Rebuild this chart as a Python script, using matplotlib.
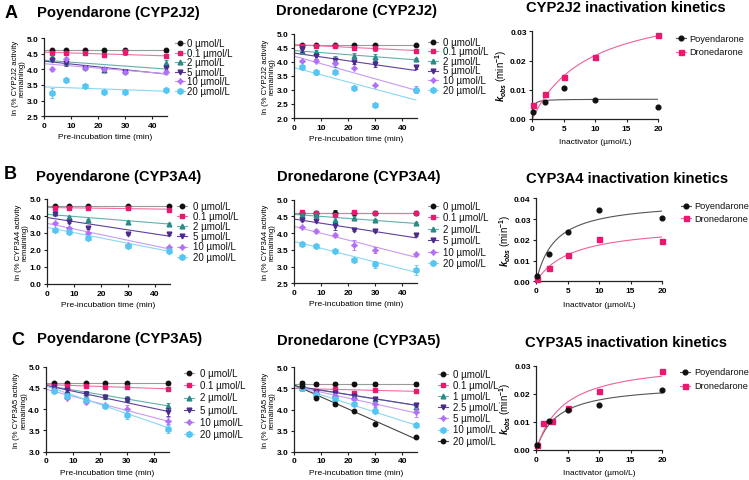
import matplotlib
matplotlib.use("Agg")
import matplotlib.pyplot as plt
from matplotlib.lines import Line2D
import numpy as np

plt.rcParams['font.family'] = ['Liberation Sans', 'DejaVu Sans']
plt.rcParams['font.weight'] = 'bold'
plt.rcParams['mathtext.fontset'] = 'custom'
plt.rcParams['mathtext.rm'] = 'Liberation Sans:bold'
plt.rcParams['mathtext.it'] = 'Liberation Sans:italic:bold'
plt.rcParams['mathtext.bf'] = 'Liberation Sans:bold'

# ---------------- data ----------------
times_full = [3, 8, 15, 22, 30, 45]
times_b_poy = [3, 8, 15, 30, 45]
labels_std = ["0 µmol/L", "0.1 µmol/L", "2 µmol/L", "5 µmol/L", "10 µmol/L", "20 µmol/L"]
labels_c_dro = ["0 µmol/L", "0.1 µmol/L", "1 µmol/L", "2.5 µmol/L", "5 µmol/L", "10 µmol/L", "20 µmol/L"]

a_poy_mean = [[4.61, 4.61, 4.61, 4.61, 4.61, 4.61],
              [4.53, 4.53, 4.52, 4.46, 4.55, 4.44],
              [4.38, 4.22, 4.07, 3.99, 3.95, 4.21],
              [4.30, 4.20, 4.05, 3.97, 3.93, 4.03],
              [4.01, 4.34, 4.05, 4.00, 3.92, 3.91],
              [3.25, 3.65, 3.47, 3.29, 3.29, 3.34]]
a_poy_err = [[0.05] * 6,
             [0.03, 0.03, 0.03, 0.03, 0.10, 0.05],
             [0.08, 0.05, 0.05, 0.04, 0.03, 0.08],
             [0.05, 0.08, 0.05, 0.04, 0.04, 0.04],
             [0.07, 0.05, 0.05, 0.04, 0.04, 0.05],
             [0.15, 0.03, 0.03, 0.06, 0.03, 0.06]]
a_poy_fit0 = [4.61, 4.55, 4.29, 4.26, 4.18, 3.44]
a_poy_fit45 = [4.61, 4.43, 4.01, 3.85, 3.86, 3.30]

a_dro_mean = [[4.61] * 6,
              [4.58, 4.57, 4.56, 4.49, 4.48, 4.38],
              [4.40, 4.36, 4.02, 4.22, 4.18, 4.09],
              [4.45, 4.19, 4.05, 3.98, 3.92, 3.80],
              [4.04, 4.04, 3.95, 3.78, 3.16, 3.01],
              [3.83, 3.62, 3.65, 3.05, 2.45, 3.00]]
a_dro_err = [[0.03] * 6,
             [0.02, 0.03, 0.03, 0.06, 0.08, 0.04],
             [0.05, 0.06, 0.20, 0.10, 0.10, 0.05],
             [0.10, 0.10, 0.10, 0.05, 0.10, 0.05],
             [0.03, 0.05, 0.05, 0.03, 0.03, 0.12],
             [0.05, 0.08, 0.05, 0.03, 0.03, 0.05]]
a_dro_fit0 = [4.61, 4.61, 4.40, 4.31, 4.20, 3.79]
a_dro_fit45 = [4.61, 4.40, 4.07, 3.69, 2.99, 2.64]

b_poy_mean = [[4.61, 4.61, 4.61, 4.61, 4.61],
              [4.45, 4.45, 4.47, 4.45, 4.36],
              [4.20, 3.96, 3.75, 3.62, 3.55],
              [4.10, 3.65, 3.30, 2.92, 2.96],
              [3.57, 3.31, 3.00, 2.30, 2.16],
              [3.20, 3.08, 2.72, 2.25, 1.96]]
b_poy_err = [[0.05] * 5,
             [0.05] * 5,
             [0.08, 0.05, 0.05, 0.10, 0.05],
             [0.05, 0.05, 0.05, 0.05, 0.05],
             [0.05, 0.05, 0.08, 0.05, 0.08],
             [0.05, 0.05, 0.08, 0.08, 0.05]]
b_poy_fit0 = [4.61, 4.50, 4.10, 3.91, 3.57, 3.33]
b_poy_fit45 = [4.61, 4.40, 3.53, 2.82, 2.07, 1.93]

b_dro_mean = [[4.61] * 6,
              [4.62, 4.60, 4.53, 4.63, 4.61, 4.60],
              [4.55, 4.53, 4.39, 4.46, 4.38, 4.30],
              [4.40, 4.37, 4.20, 4.10, 4.05, 3.95],
              [4.17, 4.07, 3.95, 3.65, 3.50, 3.37],
              [3.67, 3.62, 3.48, 3.19, 3.07, 2.91]]
b_dro_err = [[0.03, 0.03, 0.08, 0.03, 0.03, 0.02],
             [0.03] * 6,
             [0.03, 0.03, 0.08, 0.05, 0.05, 0.03],
             [0.03, 0.05, 0.10, 0.03, 0.03, 0.03],
             [0.03, 0.06, 0.06, 0.15, 0.10, 0.05],
             [0.03, 0.03, 0.05, 0.03, 0.10, 0.15]]
b_dro_fit0 = [4.61, 4.60, 4.56, 4.42, 4.20, 3.75]
b_dro_fit45 = [4.61, 4.60, 4.29, 3.86, 3.28, 2.83]

c_poy_mean = [[4.61] * 6,
              [4.55, 4.55, 4.54, 4.52, 4.52, 4.48],
              [4.50, 4.44, 4.38, 4.30, 4.25, 4.07],
              [4.52, 4.45, 4.36, 4.28, 4.22, 3.93],
              [4.46, 4.26, 4.18, 4.10, 4.00, 3.73],
              [4.44, 4.30, 4.22, 4.08, 3.87, 3.53]]
c_poy_err = [[0.03] * 6,
             [0.03] * 6,
             [0.03, 0.05, 0.05, 0.03, 0.05, 0.08],
             [0.03, 0.05, 0.08, 0.03, 0.06, 0.10],
             [0.03, 0.03, 0.05, 0.03, 0.10, 0.08],
             [0.03, 0.03, 0.05, 0.03, 0.10, 0.10]]
c_poy_fit0 = [4.61, 4.58, 4.56, 4.56, 4.47, 4.55]
c_poy_fit45 = [4.61, 4.48, 4.08, 3.95, 3.72, 3.57]

c_dro_mean = [[4.62, 4.61, 4.61, 4.61, 4.61, 4.61],
              [4.50, 4.44, 4.48, 4.38, 4.46, 4.43],
              [4.50, 4.42, 4.35, 4.32, 4.25, 4.05],
              [4.52, 4.42, 4.38, 4.31, 4.26, 4.11],
              [4.50, 4.40, 4.33, 4.25, 4.12, 3.93],
              [4.50, 4.35, 4.25, 4.14, 3.97, 3.63],
              [4.55, 4.28, 4.12, 3.96, 3.66, 3.35]]
c_dro_err = [[0.05, 0.05, 0.03, 0.03, 0.05, 0.05],
             [0.03] * 6,
             [0.03] * 6,
             [0.03] * 6,
             [0.03, 0.03, 0.03, 0.03, 0.05, 0.10],
             [0.03, 0.03, 0.03, 0.03, 0.06, 0.03],
             [0.03] * 6]
c_dro_fit0 = [4.61, 4.50, 4.55, 4.56, 4.55, 4.55, 4.58]
c_dro_fit45 = [4.61, 4.43, 4.10, 4.10, 3.92, 3.63, 3.30]

# kinetics (inactivator µmol/L vs kobs)
kin_a_poy_x = [0.1, 2, 5, 10, 20]
kin_a_poy_y = [0.0025, 0.0057, 0.0106, 0.0064, 0.0040]
kin_a_dro_x = [0.1, 2, 5, 10, 20]
kin_a_dro_y = [0.0049, 0.0084, 0.0145, 0.0213, 0.0288]
kin_b_poy_x = [0.1, 2, 5, 10, 20]
kin_b_poy_y = [0.0027, 0.0130, 0.0239, 0.0345, 0.0307]
kin_b_dro_x = [0.1, 2, 5, 10, 20]
kin_b_dro_y = [0.0011, 0.0064, 0.0125, 0.0204, 0.0196]
kin_c_poy_x = [0.1, 2, 5, 10, 20]
kin_c_poy_y = [0.0019, 0.0102, 0.0144, 0.0162, 0.0214]
kin_c_dro_x = [0.1, 1, 2.5, 5, 10, 20]
kin_c_dro_y = [0.0019, 0.0098, 0.0104, 0.0149, 0.0210, 0.0283]
# fitted (kinact, KI)
fit_a_poy = (0.0068, 0.15)
fit_a_dro = (0.0413, 9.0)
fit_b_poy = (0.0389, 3.0)
fit_b_dro = (0.0275, 5.74)
fit_c_poy = (0.0237, 3.25)
fit_c_dro = (0.0321, 4.35)

# ---------------- styles ----------------
BLACK, PINK, TEAL, DPUR, VIOL, LBLUE = '#111111', '#e8196e', '#2a8a88', '#4b2a8c', '#b36ff5', '#55c6f2'
std_colors = [BLACK, PINK, TEAL, DPUR, VIOL, LBLUE]
std_lines = ['#9a9a9a', '#f070a0', '#62b0ac', '#5e3fa0', '#c79af5', '#8ad6f5']
STAR4 = (4, 1, 0)
std_markers = ['o', 's', '^', 'v', STAR4, 'h']
std_ms = [3.2, 3.0, 3.4, 3.4, 4.2, 4.2]
c_dro_colors = [BLACK, PINK, TEAL, DPUR, VIOL, LBLUE, BLACK]
c_dro_lines = ['#9a9a9a', '#f070a0', '#62b0ac', '#5e3fa0', '#c79af5', '#8ad6f5', '#444444']
c_dro_markers = ['o', 's', '^', 'v', STAR4, 'h', 'o']
c_dro_ms = [3.2, 3.0, 3.4, 3.4, 4.2, 4.2, 3.2]

W, H = 749, 481
fig = plt.figure(figsize=(W / 100, H / 100), dpi=100)


def add_ax(left, top, right, bottom):
    return fig.add_axes([left / W, 1 - bottom / H, (right - left) / W, (bottom - top) / H])


def style_ax(ax):
    for s in ['top', 'right']:
        ax.spines[s].set_visible(False)
    for s in ['left', 'bottom']:
        ax.spines[s].set_linewidth(0.9)
        ax.spines[s].set_color('#222222')
    ax.tick_params(direction='out', length=2.5, width=0.8, labelsize=6, pad=1.5, colors='#222222')
    ax.tick_params(labelcolor='black')


def draw_legend(xm, xt, y0, dy, labels, colors, lcolors, markers, ms, fs=7):
    for i, lab in enumerate(labels):
        y = 1 - (y0 + i * dy) / H
        fig.add_artist(Line2D([(xm - 5) / W, (xm + 5) / W], [y, y], transform=fig.transFigure,
                              color=lcolors[i], lw=0.8))
        fig.add_artist(Line2D([xm / W], [y], transform=fig.transFigure, marker=markers[i],
                              ms=ms[i], color=colors[i], lw=0))
        fig.text(xt / W, y, lab, fontsize=fs, fontweight='normal', va='center', ha='left', color='#111111')


def time_panel(box, times, means, errs, f0, f45, colors, lcolors, markers, ms, ylim, yticks, ylab):
    ax = add_ax(*box)
    style_ax(ax)
    for i in range(len(means)):
        ax.plot([0, 45], [f0[i], f45[i]], color=lcolors[i], lw=0.8, zorder=2)
    for i in range(len(means)):
        ax.errorbar(times, means[i], yerr=errs[i], fmt='none', ecolor=colors[i], elinewidth=0.6,
                    capsize=1.3, capthick=0.6, clip_on=False, zorder=3)
        ax.plot(times, means[i], lw=0, marker=markers[i], ms=ms[i], color=colors[i],
                clip_on=False, zorder=3)
    ax.set_xlim(0, 45.5)
    ax.set_ylim(*ylim)
    ax.set_xticks([0, 10, 20, 30, 40])
    ax.set_yticks(yticks)
    ax.set_yticklabels([f"{v:.1f}" for v in yticks])
    ax.set_xlabel("Pre-incubation time (min)", fontsize=6, labelpad=3.2)
    ax.set_ylabel(ylab, fontsize=5.6, labelpad=0.8, linespacing=0.95)
    return ax


def kin_panel(box, px, py, dx, dy, fp, fd, ylim, yticks):
    ax = add_ax(*box)
    style_ax(ax)
    xx = np.linspace(0, 20, 300)
    ax.plot(xx, fp[0] * xx / (fp[1] + xx), color='#555555', lw=0.8, zorder=2)
    ax.plot(xx, fd[0] * xx / (fd[1] + xx), color='#f0609a', lw=0.8, zorder=2)
    ax.plot(dx, dy, 's', ms=3.6, color=PINK, clip_on=False, zorder=3)
    ax.plot(px, py, 'o', ms=3.4, color=BLACK, clip_on=False, zorder=4)
    ax.set_xlim(0, 20)
    ax.set_ylim(*ylim)
    ax.set_xticks([0, 5, 10, 15, 20])
    ax.set_yticks(yticks)
    ax.set_yticklabels([f"{v:.2f}" for v in yticks])
    ax.set_xlabel("Inactivator (µmol/L)", fontsize=6, labelpad=5)
    ax.set_ylabel(r"$k_{obs}$ (min$^{-1}$)", fontsize=7, labelpad=1)
    return ax


# ---- Row A ----
time_panel((44, 39, 167.2, 117.3), times_full, a_poy_mean, a_poy_err, a_poy_fit0, a_poy_fit45,
           std_colors, std_lines, std_markers, std_ms, (2.5, 5.0), [2.5, 3.0, 3.5, 4.0, 4.5, 5.0],
           "ln (% CYP2J2 activity\nremaining)")
time_panel((294.3, 34.7, 417.2, 119), times_full, a_dro_mean, a_dro_err, a_dro_fit0, a_dro_fit45,
           std_colors, std_lines, std_markers, std_ms, (2.0, 5.0), [2.0, 2.5, 3.0, 3.5, 4.0, 4.5, 5.0],
           "ln (% CYP2J2 activity\nremaining)")
kin_panel((532.3, 32.3, 658, 120), kin_a_poy_x, kin_a_poy_y, kin_a_dro_x, kin_a_dro_y,
          fit_a_poy, fit_a_dro, (0, 0.03), [0.0, 0.01, 0.02, 0.03])

# ---- Row B ----
time_panel((47, 200, 169.9, 285), times_b_poy, b_poy_mean, b_poy_err, b_poy_fit0, b_poy_fit45,
           std_colors, std_lines, std_markers, std_ms, (0.0, 5.0), [0.0, 1.0, 2.0, 3.0, 4.0, 5.0],
           "ln (% CYP3A4 activity\nremaining)")
time_panel((294.3, 200.7, 417.2, 284.3), times_full, b_dro_mean, b_dro_err, b_dro_fit0, b_dro_fit45,
           std_colors, std_lines, std_markers, std_ms, (2.5, 5.0), [2.5, 3.0, 3.5, 4.0, 4.5, 5.0],
           "ln (% CYP3A4 activity\nremaining)")
kin_panel((536.3, 199.3, 662, 282.3), kin_b_poy_x, kin_b_poy_y, kin_b_dro_x, kin_b_dro_y,
          fit_b_poy, fit_b_dro, (0, 0.04), [0.0, 0.01, 0.02, 0.03, 0.04])

# ---- Row C ----
time_panel((45.7, 367.7, 168.9, 452.7), times_full, c_poy_mean, c_poy_err, c_poy_fit0, c_poy_fit45,
           std_colors, std_lines, std_markers, std_ms, (3.0, 5.0), [3.0, 3.5, 4.0, 4.5, 5.0],
           "ln (% CYP3A5 activity\nremaining)")
time_panel((294.3, 368.3, 417.2, 452.7), times_full, c_dro_mean, c_dro_err, c_dro_fit0, c_dro_fit45,
           c_dro_colors, c_dro_lines, c_dro_markers, c_dro_ms, (3.0, 5.0), [3.0, 3.5, 4.0, 4.5, 5.0],
           "ln (% CYP3A5 activity\nremaining)")
kin_panel((536.3, 367, 662, 451), kin_c_poy_x, kin_c_poy_y, kin_c_dro_x, kin_c_dro_y,
          fit_c_poy, fit_c_dro, (0, 0.03), [0.0, 0.01, 0.02, 0.03])

# ---- legends ----
kin_labels = ["Poyendarone", "Dronedarone"]
draw_legend(180, 187, 44, 9.6, labels_std, std_colors, std_lines, std_markers, std_ms)
draw_legend(433, 443, 42.7, 9.6, labels_std, std_colors, std_lines, std_markers, std_ms)
draw_legend(681, 689, 39.3, 13.4, kin_labels, [BLACK, PINK], ['#555555', '#f0609a'], ['o', 's'], [3.4, 3.6], fs=6.7)
draw_legend(182, 193, 206.7, 10.2, labels_std, std_colors, std_lines, std_markers, std_ms)
draw_legend(433, 443, 207, 11.4, labels_std, std_colors, std_lines, std_markers, std_ms)
draw_legend(686, 694, 206.7, 12.7, kin_labels, [BLACK, PINK], ['#555555', '#f0609a'], ['o', 's'], [3.4, 3.6], fs=6.7)
draw_legend(189, 200, 374.3, 12.1, labels_std, std_colors, std_lines, std_markers, std_ms)
draw_legend(443, 453, 375, 11.1, labels_c_dro, c_dro_colors, c_dro_lines, c_dro_markers, c_dro_ms)
draw_legend(685, 694, 373, 13.7, kin_labels, [BLACK, PINK], ['#555555', '#f0609a'], ['o', 's'], [3.4, 3.6], fs=6.7)

# ---- titles ----
titles = [("Poyendarone (CYP2J2)", 118, 12.7), ("Dronedarone (CYP2J2)", 357, 11),
          ("CYP2J2 inactivation kinetics", 626, 8),
          ("Poyendarone (CYP3A4)", 119, 176.7), ("Dronedarone (CYP3A4)", 359, 177),
          ("CYP3A4 inactivation kinetics", 627, 179),
          ("Poyendarone (CYP3A5)", 120, 339), ("Dronedarone (CYP3A5)", 359, 341),
          ("CYP3A5 inactivation kinetics", 626, 343)]
for t, x, y in titles:
    fig.text(x / W, 1 - y / H, t, fontsize=10.6, fontweight='bold', ha='center', va='center')

for letter, x, y in [("A", 11, 13.5), ("B", 10, 174.5), ("C", 17.5, 340.5)]:
    fig.text(x / W, 1 - y / H, letter, fontsize=13, fontweight='bold', ha='center', va='center')

fig.savefig("out.png", dpi=100)
